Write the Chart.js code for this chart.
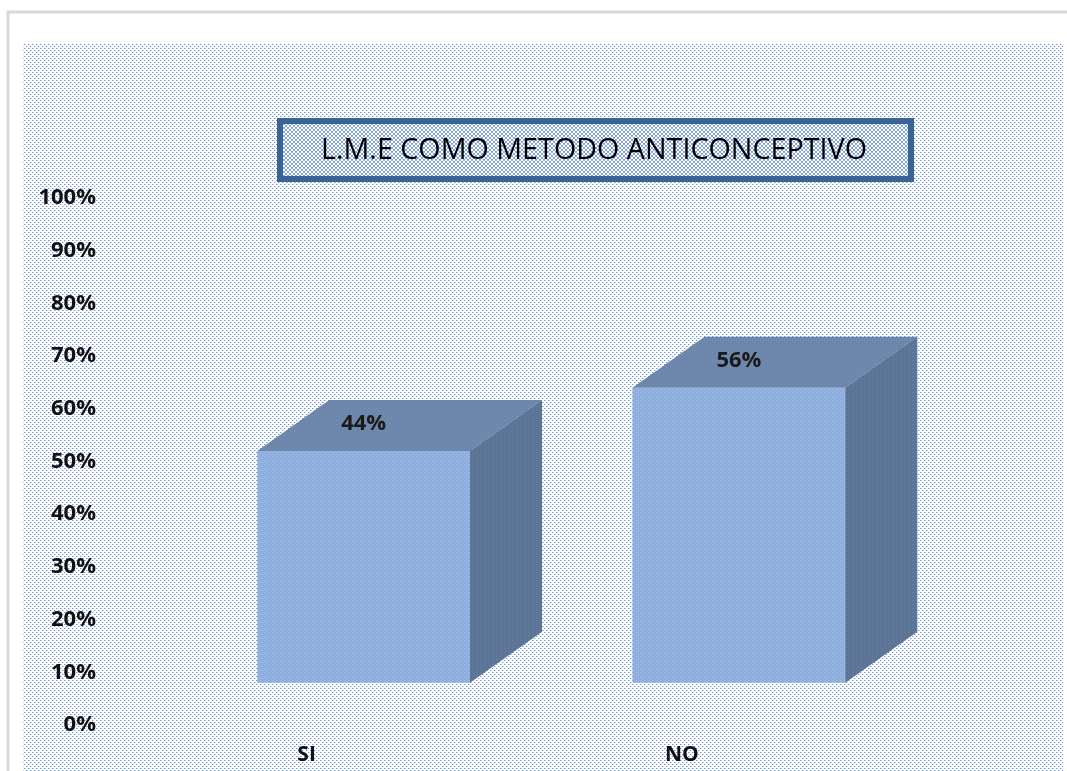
<!DOCTYPE html>
<html><head><meta charset="utf-8">
<script src="https://cdn.jsdelivr.net/npm/chart.js@4/dist/chart.umd.min.js"></script>
<style>html,body{margin:0;padding:0;background:#fff;overflow:hidden}canvas{display:block}</style>
</head><body>
<canvas id="c" width="1067" height="771"></canvas>
<script>
const categories = ['SI', 'NO'];
const values = [44, 56];
const valueLabels = ['44%', '56%'];
const yTickValues = [0, 10, 20, 30, 40, 50, 60, 70, 80, 90, 100];
const yTickLabels = ['0%', '10%', '20%', '30%', '40%', '50%', '60%', '70%', '80%', '90%', '100%'];
const chartTitle = 'L.M.E COMO METODO ANTICONCEPTIVO';

const canvas = document.getElementById('c');
const ctx0 = canvas.getContext('2d');

function makePattern(w, h, bg, dots) {
  const c = document.createElement('canvas');
  c.width = w; c.height = h;
  const x = c.getContext('2d');
  x.fillStyle = bg; x.fillRect(0, 0, w, h);
  dots.forEach(d => { x.fillStyle = d[2]; x.fillRect(d[0], d[1], 1, 1); });
  return ctx0.createPattern(c, 'repeat');
}

const bgPattern = makePattern(4, 4, '#ffffff', [
  [0, 0, '#6b96d6'], [1, 0, '#c2d4ef'], [2, 2, '#6b96d6'], [3, 2, '#c2d4ef']
]);
const titlePattern = makePattern(4, 4, '#ffffff', [
  [0, 0, '#8eacdc'], [1, 1, '#7b9fd6'], [2, 2, '#8eacdc'], [3, 3, '#7b9fd6'],
  [3, 0, '#8eacdc'], [2, 1, '#7b9fd6'], [1, 2, '#8eacdc'], [0, 3, '#7b9fd6']
]);
const frontPattern = makePattern(4, 4, '#8fb0de', [
  [0, 0, '#a7c2e8'], [2, 2, '#a7c2e8'], [1, 3, '#86a8da'], [3, 1, '#86a8da']
]);
const topPattern = makePattern(4, 4, '#6c87ab', [
  [0, 0, '#7892b5'], [2, 2, '#7892b5'], [1, 1, '#647fa3']
]);
const sidePattern = makePattern(4, 4, '#5c7597', [
  [0, 0, '#6880a1'], [2, 2, '#6880a1'], [3, 1, '#546d8f']
]);

const DX = 72, DY = -51;
const AREA_BOTTOM = 725, X_AXIS_H = 46;

const decor = {
  id: 'decor',
  afterLayout(chart) {
    const a = chart.chartArea;
    a.bottom = AREA_BOTTOM;
    a.height = AREA_BOTTOM - a.top;
    ['y', 'yb'].forEach(id => {
      const s = chart.scales[id];
      s.bottom = AREA_BOTTOM;
      s.height = AREA_BOTTOM - s.top;
      s.configure();
    });
    const x = chart.scales.x;
    x.top = AREA_BOTTOM;
    x.bottom = AREA_BOTTOM + X_AXIS_H;
    x.configure();
  },
  beforeDraw(chart) {
    const ctx = chart.ctx;
    ctx.save();
    ctx.fillStyle = '#ffffff';
    ctx.fillRect(0, 0, chart.width, chart.height);
    ctx.strokeStyle = '#d9d9d9';
    ctx.lineWidth = 3;
    ctx.strokeRect(8, 12, 1200, 900);
    ctx.fillStyle = bgPattern;
    ctx.fillRect(23, 43, 1040, 740);
    ctx.fillStyle = titlePattern;
    ctx.fillRect(280, 121, 631, 58);
    ctx.strokeStyle = '#3b6393';
    ctx.lineWidth = 6;
    ctx.strokeRect(280, 121, 631, 58);
    ctx.font = '30px "Open Sans"';
    const tw = ctx.measureText(chartTitle).width;
    const target = 546;
    ctx.translate(594, 150);
    ctx.scale(target / tw, 1);
    ctx.fillStyle = '#000000';
    ctx.textAlign = 'center';
    ctx.textBaseline = 'middle';
    ctx.fillText(chartTitle, 0, 0);
    ctx.restore();
  },
  afterDatasetsDraw(chart) {
    const ctx = chart.ctx;
    const meta = chart.getDatasetMeta(0);
    meta.data.forEach((el, i) => {
      const p = el.getProps(['x', 'y', 'base', 'width'], true);
      const l = p.x - p.width / 2, r = p.x + p.width / 2;
      ctx.save();
      ctx.beginPath();
      ctx.moveTo(l, p.y);
      ctx.lineTo(l + DX, p.y + DY);
      ctx.lineTo(r + DX, p.y + DY);
      ctx.lineTo(r, p.y);
      ctx.closePath();
      ctx.fillStyle = topPattern;
      ctx.fill();
      ctx.beginPath();
      ctx.moveTo(r, p.y);
      ctx.lineTo(r + DX, p.y + DY);
      ctx.lineTo(r + DX, p.base + DY);
      ctx.lineTo(r, p.base);
      ctx.closePath();
      ctx.fillStyle = sidePattern;
      ctx.fill();
      ctx.font = 'bold 22px "Open Sans"';
      ctx.fillStyle = '#1a1a1a';
      ctx.textAlign = 'center';
      ctx.textBaseline = 'middle';
      ctx.fillText(valueLabels[i], p.x, p.y - 27);
      ctx.restore();
    });
  }
};

new Chart(canvas, {
  type: 'bar',
  data: {
    labels: categories,
    datasets: [{
      data: values,
      yAxisID: 'yb',
      backgroundColor: frontPattern,
      borderWidth: 0,
      barPercentage: 0.567,
      categoryPercentage: 1
    }]
  },
  options: {
    responsive: false,
    animation: false,
    devicePixelRatio: 1,
    layout: { padding: { top: 198, right: 140.5, bottom: 0, left: 0 } },
    plugins: { legend: { display: false }, title: { display: false }, tooltip: { enabled: false } },
    scales: {
      x: {
        grid: { display: false, drawTicks: false },
        border: { display: false },
        ticks: {
          font: { family: 'Open Sans', size: 21, weight: 'bold' },
          color: '#111111',
          padding: 17,
          labelOffset: -57,
          maxRotation: 0
        },
        afterFit(s) { s.height = X_AXIS_H; }
      },
      y: {
        position: 'left',
        min: 0,
        max: 100,
        afterBuildTicks(s) { s.ticks = yTickValues.map(v => ({ value: v })); },
        ticks: {
          callback: (v) => yTickLabels[yTickValues.indexOf(v)],
          font: { family: 'Open Sans', size: 22, weight: 'bold' },
          color: '#111111',
          padding: 80
        },
        grid: { display: false, drawTicks: false },
        border: { display: false },
        afterFit(s) { s.width = 176; }
      },
      yb: { display: false, min: -8, max: 92 }
    }
  },
  plugins: [decor]
});
</script>
</body></html>
